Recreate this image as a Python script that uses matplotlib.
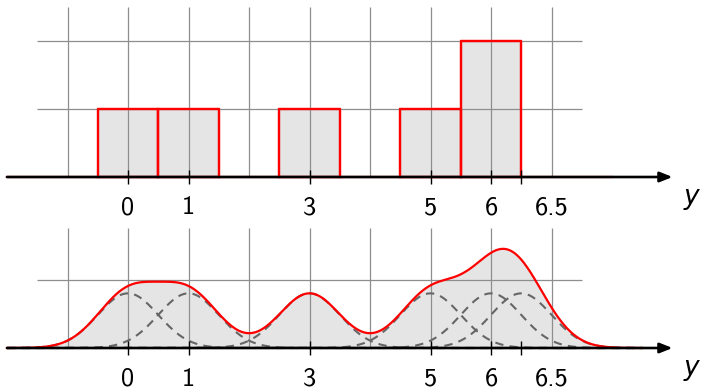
import numpy as np
import matplotlib
matplotlib.use("Agg")
import matplotlib.pyplot as plt

# ---------- data ----------
samples = [0, 1, 3, 5, 6, 6.5]          # observed y values
tick_pos = [0, 1, 3, 5, 6, 6.5]
tick_labels = ["0", "1", "3", "5", "6", "6.5"]
bin_edges = [-0.5, 0.5, 1.5, 2.5, 3.5, 4.5, 5.5, 6.5]
bandwidth = 0.5
grid_x = [-1, 0, 1, 2, 3, 4, 5, 6, 7]
grid_y_top = [1, 2]
grid_y_bottom = [1]

plt.rcParams["font.family"] = ["cmss10", "DejaVu Sans"]

W, H, DPI = 704, 390, 100
fig = plt.figure(figsize=(W / DPI, H / DPI), dpi=DPI)

# pixel mapping: x=0 at 128 px, 60.5 px per unit
xu = 60.5
xlim = (-128 / xu, (W - 128) / xu)

ax1 = fig.add_axes([0, 0.5, 1, 0.5])
ax2 = fig.add_axes([0, 0, 1, 0.5])
ax1.set_xlim(xlim)
ax1.set_ylim(-18 / 68, (195 - 18) / 68)
ax2.set_xlim(xlim)
ax2.set_ylim(-42 / 68.5, (195 - 42) / 68.5)
for ax in (ax1, ax2):
    ax.axis("off")

GRID = "#8e8e8e"
FILL = "#e5e5e5"
RED = "#ff0000"


def draw_axis(ax, unit):
    # grid
    ax.hlines(grid_y_top if ax is ax1 else grid_y_bottom, -1.5, 7.5,
              color=GRID, lw=0.9, zorder=2)
    ax.vlines(grid_x, 0, 2.5 if ax is ax1 else 1.75, color=GRID, lw=0.9, zorder=2)
    # axis with arrow
    ax.annotate("", xy=(9, 0), xytext=(-2, 0),
                arrowprops=dict(arrowstyle="-|>,head_length=0.75,head_width=0.3",
                                color="black", lw=1.9, shrinkA=0, shrinkB=0),
                zorder=6)
    tl = 7 / unit
    ax.vlines(tick_pos, -tl, tl, color="black", lw=1.0, zorder=6)
    for p, lab in zip(tick_pos, tick_labels):
        dx = 30 if lab == "6.5" else 0
        ax.annotate(lab, xy=(p, 0), xytext=(dx, -31), textcoords="offset pixels",
                    ha="center", va="center", fontsize=19)
    ax.annotate("y", xy=(9, 0), xytext=(19, -20), textcoords="offset pixels",
                ha="center", va="center", fontsize=19,
                family="DejaVu Sans", style="italic")


# ---------- top: histogram ----------
counts, edges = np.histogram(samples, bins=bin_edges)
left = np.array(edges[:-1])
widths = np.diff(edges)
mask = counts > 0
ax1.bar(left[mask], counts[mask], width=widths[mask], align="edge",
        color=FILL, edgecolor=RED, lw=1.6, zorder=1)
ax1.plot([-2, 8], [0, 0], color=RED, lw=1.6, zorder=3)
# redraw red outlines over the grid
for l, w, c in zip(left[mask], widths[mask], counts[mask]):
    ax1.plot([l, l, l + w, l + w], [0, c, c, 0], color=RED, lw=1.6, zorder=4)
draw_axis(ax1, 68)

# ---------- bottom: kernel density ----------
xs = np.linspace(-2, 8.5, 600)
kernels = [np.exp(-0.5 * ((xs - s) / bandwidth) ** 2) / (bandwidth * np.sqrt(2 * np.pi))
           for s in samples]
kde = np.sum(kernels, axis=0)
ax2.fill_between(xs, 0, kde, color=FILL, lw=0, zorder=1)
for k in kernels:
    ax2.plot(xs, k, color="#666666", lw=1.5, ls=(0, (4, 3)), zorder=3)
ax2.plot(xs, kde, color=RED, lw=1.6, zorder=4)
draw_axis(ax2, 68.5)

fig.savefig("out.png", dpi=DPI)
